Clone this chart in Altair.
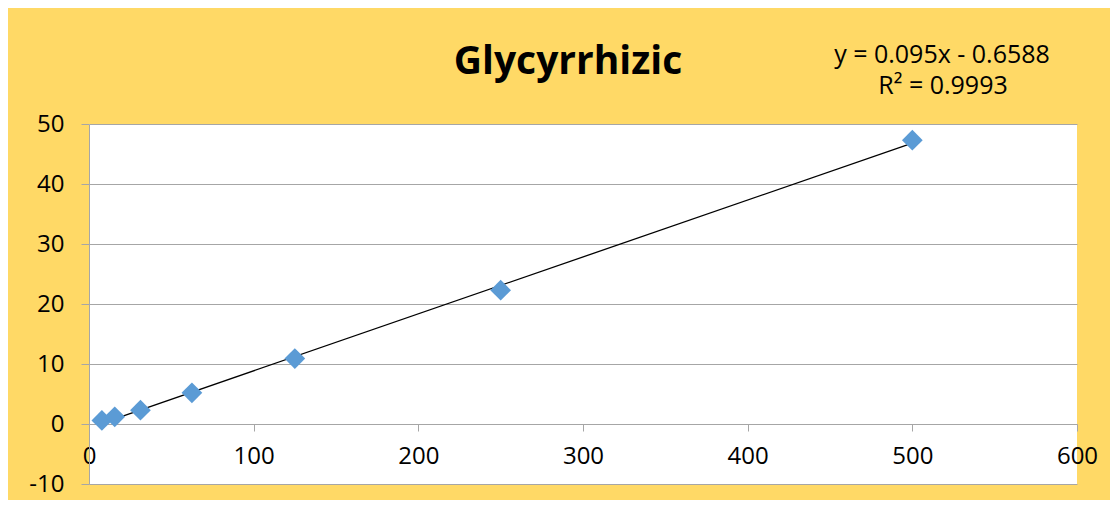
import altair as alt
import pandas as pd

# Data
conc = [7.8125, 15.625, 31.25, 62.5, 125, 250, 500]
signal = [0.6, 1.2, 2.3, 5.2, 10.9, 22.3, 47.3]
x_ticks = [0, 100, 200, 300, 400, 500, 600]
y_ticks = [-10, 0, 10, 20, 30, 40, 50]
title_text = "Glycyrrhizic"
eq_lines = ["y = 0.095x - 0.6588", "R² = 0.9993"]

df = pd.DataFrame({"x": conc, "y": signal})

FONT = "Open Sans"
GRAY = "#A6A6A6"
W, H = 988, 360

xs = alt.Scale(domain=[0, 600], nice=False, zero=False)
ys = alt.Scale(domain=[-10, 50], nice=False, zero=False)

base = alt.Chart(df)

points = base.mark_point(shape="diamond", filled=True, size=430, opacity=1,
                         color="#5B9BD5").encode(
    x=alt.X("x:Q", scale=xs,
            axis=alt.Axis(values=x_ticks, title=None, grid=False, offset=-60,
                          domainColor=GRAY, tickColor=GRAY, tickSize=7,
                          labelFont=FONT, labelFontSize=24, labelColor="#000000",
                          labelBaseline="middle", labelPadding=25,
                          labelExpr="'' + datum.value", labelFlush=False)),
    y=alt.Y("y:Q", scale=ys,
            axis=alt.Axis(values=y_ticks, title=None, grid=True, gridColor=GRAY,
                          domainColor=GRAY, tickColor=GRAY, tickSize=8,
                          labelFont=FONT, labelFontSize=24, labelColor="#000000",
                          labelPadding=17, labelExpr="'' + datum.value",
                          labelFlush=False)),
)

trend = base.transform_regression("x", "y").mark_line(
    color="#000000", strokeWidth=1.3).encode(
    x=alt.X("x:Q", scale=xs),
    y=alt.Y("y:Q", scale=ys),
)

title = alt.Chart(pd.DataFrame({"t": [title_text]})).mark_text(
    font=FONT, fontSize=39, fontWeight="bold", color="#000000",
    align="center", baseline="alphabetic").encode(
    text="t:N", x=alt.value(479), y=alt.value(-50))

eq = alt.Chart(pd.DataFrame({"t": [eq_lines[0]]})).mark_text(
    font=FONT, fontSize=25, color="#000000",
    align="center", baseline="alphabetic").encode(
    text="t:N", x=alt.value(853), y=alt.value(-61))

r2 = alt.Chart(pd.DataFrame({"t": [eq_lines[1]]})).mark_text(
    font=FONT, fontSize=25, color="#000000",
    align="center", baseline="alphabetic").encode(
    text="t:N", x=alt.value(854), y=alt.value(-30))

chart = alt.layer(trend, points, title, eq, r2).properties(
    width=W, height=H,
    background="#FFD966",
    padding={"left": 81, "top": 116, "right": 33, "bottom": 16},
    autosize=alt.AutoSizeParams(type="none"),
).configure_view(fill="#FFFFFF", stroke=None)

chart.save("out.html", embed_options={"renderer": "svg", "actions": False})
